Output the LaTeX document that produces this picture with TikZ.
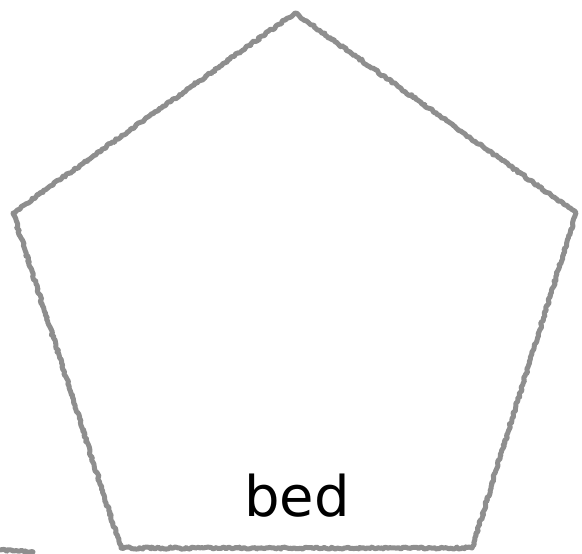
\documentclass[tikz,border=0pt]{standalone}
\usepackage{fontspec}
\setmainfont{DejaVu Sans}
\usetikzlibrary{decorations.pathmorphing}
\definecolor{edgegray}{HTML}{8E8E8E}
\tikzset{
  rough/.style={draw=edgegray, line width=5pt, line join=round, line cap=round,
    decorate, decoration={random steps, segment length=2pt, amplitude=1.1pt}},
  label/.style={font=\fontsize{56}{62}\selectfont, text=black, inner sep=0pt}
}
\begin{document}
\begin{tikzpicture}[x=1pt,y=1pt]
\useasboundingbox (0,0) rectangle (582,554);
\coordinate (T) at (295,541);
\coordinate (L) at (13,341);
\coordinate (R) at (576,341);
\coordinate (BL) at (121,6);
\coordinate (BR) at (472,6);
\coordinate (s1) at (0,4);
\coordinate (s2) at (33,2);
\draw[rough] (T) -- (R) -- (BR) -- (BL) -- (L) -- cycle;
\draw[rough] (s1) -- (s2);
\node[label] (bed) at (297,58) {bed};
\end{tikzpicture}
\end{document}
